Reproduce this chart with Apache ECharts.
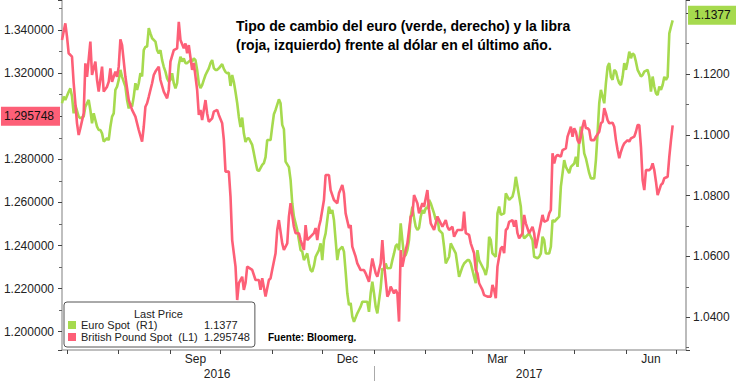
<!DOCTYPE html>
<html>
<head>
<meta charset="utf-8">
<script src="https://cdn.jsdelivr.net/npm/echarts@6/dist/echarts.min.js"></script>
<style>html,body{margin:0;padding:0;background:#fff;}#c{width:736px;height:382px;}</style>
</head>
<body>
<div id="c"></div>
<script>
// ---- data (day offsets since 2016-06-28, values) ----
const startDate = [2016, 5, 28];
const dayCount = 375;

const gbpDay = [0,2,3,4,6,7,9,10,11,13,14,15,17,18,20,21,22,24,25,27,28,29,30,32,33,34,35,36,38,40,42,44,46,48,49,50,51,52,54,55,56,58,59,61,63,64,65,67,69,70,71,73,74,75,76,78,79,81,82,83,84,86,87,88,90,91,93,94,96,97,98,100,101,102,104,105,106,108,109,110,111,114,116,118,119,120,122,124,125,126,128,129,130,132,133,135,136,137,139,140,142,143,145,146,147,149,151,152,153,154,155,157,158,160,161,163,165,166,168,169,170,172,173,174,176,177,179,181,182,184,185,186,188,189,191,192,193,195,196,197,199,200,201,202,203,204,206,207,209,210,211,213,214,216,217,219,220,221,223,224,225,227,228,230,231,232,234,235,237,240,241,242,244,245,247,248,249,250,252,253,255,257,258,259,260,261,262,263,264,265,266,267,268,270,271,272,273,274,276,277,278,280,281,282,283,284,285,287,288,289,291,292,293,294,295,296,297,299,300,302,303,305,306,307,308,309,310,311,312,313,314,315,316,317,319,320,322,323,324,325,326,327,328,330,331,332,333,334,335,336,337,339,340,341,343,344,345,346,347,348,349,350,352,353,354,355,356,357,358,359,360,361,363,364,365,366];
const gbpVal = [1.3354,1.3431,1.3369,1.3292,1.3276,1.3153,1.2967,1.2913,1.2944,1.3013,1.3245,1.3183,1.3346,1.3191,1.3253,1.3168,1.3114,1.3230,1.3114,1.3137,1.3160,1.3222,1.3160,1.3207,1.3183,1.3230,1.3357,1.3330,1.3183,1.3075,1.3029,1.2998,1.2936,1.2882,1.2951,1.3044,1.3060,1.3090,1.3153,1.3191,1.3207,1.3230,1.3168,1.3114,1.3083,1.3122,1.3253,1.3307,1.3315,1.3438,1.3354,1.3315,1.3338,1.3292,1.3330,1.3215,1.3247,1.3122,1.3006,1.3029,1.2982,1.3075,1.3013,1.2974,1.2990,1.3021,1.3029,1.3006,1.2967,1.2890,1.2743,1.2743,1.2627,1.2425,1.2302,1.2147,1.2225,1.2255,1.2194,1.2226,1.2302,1.2287,1.2240,1.2240,1.2194,1.2248,1.2163,1.2240,1.2248,1.2287,1.2364,1.2472,1.2518,1.2410,1.2379,1.2410,1.2534,1.2596,1.2487,1.2457,1.2457,1.2425,1.2379,1.2495,1.2425,1.2441,1.2457,1.2481,1.2425,1.2487,1.2518,1.2611,1.2727,1.2727,1.2657,1.2611,1.2596,1.2642,1.2681,1.2642,1.2549,1.2481,1.2495,1.2395,1.2348,1.2317,1.2286,1.2286,1.2271,1.2232,1.2286,1.2340,1.2271,1.2255,1.2317,1.2425,1.2317,1.2163,1.2178,1.2209,1.2178,1.2194,1.2178,1.2047,1.2379,1.2302,1.2379,1.2410,1.2534,1.2542,1.2634,1.2596,1.2549,1.2596,1.2580,1.2657,1.2565,1.2503,1.2472,1.2503,1.2534,1.2503,1.2487,1.2518,1.2487,1.2472,1.2487,1.2441,1.2472,1.2472,1.2557,1.2457,1.2449,1.2410,1.2364,1.2286,1.2271,1.2225,1.2194,1.2170,1.2163,1.2163,1.2217,1.2194,1.2155,1.2302,1.2348,1.2387,1.2395,1.2364,1.2472,1.2480,1.2510,1.2518,1.2487,1.2518,1.2457,1.2433,1.2457,1.2542,1.2503,1.2457,1.2472,1.2487,1.2457,1.2387,1.2425,1.2503,1.2542,1.2510,1.2518,1.2549,1.2565,1.2828,1.2781,1.2812,1.2820,1.2812,1.2843,1.2851,1.2905,1.2951,1.2905,1.2944,1.2928,1.2889,1.2874,1.2905,1.2951,1.2982,1.2944,1.2944,1.2936,1.2889,1.2889,1.2905,1.2928,1.2967,1.2974,1.3037,1.3013,1.2982,1.2967,1.2970,1.2951,1.2889,1.2843,1.2805,1.2835,1.2858,1.2874,1.2889,1.2882,1.2897,1.2905,1.2928,1.2959,1.2959,1.2858,1.2704,1.2657,1.2750,1.2750,1.2758,1.2781,1.2750,1.2696,1.2634,1.2657,1.2681,1.2689,1.2712,1.2719,1.2812,1.2889,1.295748];

const eurDay = [0,1,2,4,5,6,7,8,10,11,13,14,16,17,18,19,20,21,22,23,24,25,27,28,29,30,31,32,33,34,35,36,38,39,40,41,42,43,44,45,46,47,48,49,50,51,52,53,54,56,57,58,59,60,61,62,63,64,65,66,67,68,69,70,71,72,73,74,75,77,78,79,80,81,82,83,84,85,86,87,88,89,90,91,92,93,94,96,97,98,99,100,101,102,103,104,105,106,107,108,109,110,111,112,113,114,115,116,117,118,120,121,122,123,125,126,127,128,130,131,132,133,134,136,137,138,139,140,141,142,143,144,145,146,147,148,149,150,151,152,154,155,156,157,158,159,160,161,162,163,164,165,166,168,169,170,171,172,173,174,175,177,178,179,180,181,183,184,185,186,187,188,189,191,192,193,194,195,197,198,199,200,201,202,203,204,205,206,207,208,209,210,211,212,213,214,215,216,217,218,219,220,221,223,224,225,226,228,229,230,232,233,235,236,238,240,241,243,244,245,246,247,248,249,250,251,253,254,255,256,257,258,260,261,262,263,265,266,267,268,270,271,272,273,274,275,276,277,278,280,281,282,283,285,286,287,288,289,290,292,293,294,295,296,298,299,301,302,304,305,307,308,309,310,311,312,313,314,316,317,319,320,321,322,323,324,325,326,327,328,329,330,331,332,333,334,335,336,337,338,339,340,341,342,343,344,345,346,347,348,349,351,352,353,354,355,356,357,358,359,360,361,362,363,364,365,366];
const eurVal = [1.1104,1.1126,1.1115,1.1142,1.1153,1.1126,1.1071,1.1098,1.1060,1.1055,1.1060,1.1093,1.1115,1.1082,1.1038,1.1071,1.1049,1.1027,1.1016,1.1016,1.1005,1.0978,1.0989,1.0983,1.1027,1.1060,1.1071,1.1148,1.1159,1.1181,1.1214,1.1191,1.1159,1.1115,1.1087,1.1104,1.1093,1.1126,1.1170,1.1148,1.1170,1.1203,1.1192,1.1279,1.1290,1.1290,1.1351,1.1334,1.1318,1.1307,1.1279,1.1268,1.1279,1.1246,1.1224,1.1208,1.1186,1.1175,1.1181,1.1203,1.1170,1.1153,1.1170,1.1230,1.1257,1.1241,1.1252,1.1236,1.1236,1.1246,1.1241,1.1252,1.1246,1.1214,1.1170,1.1154,1.1164,1.1181,1.1197,1.1208,1.1219,1.1236,1.1246,1.1220,1.1214,1.1214,1.1219,1.1233,1.1217,1.1207,1.1203,1.1204,1.1161,1.1197,1.1174,1.1141,1.1105,1.1059,1.1026,1.1057,1.1005,1.0977,1.0988,1.0989,1.0978,1.0967,1.0940,1.0912,1.0885,1.0881,1.0901,1.0907,1.0927,1.0983,1.0983,1.1027,1.1068,1.1082,1.1117,1.1104,1.1033,1.1019,1.0912,1.0894,1.0852,1.0775,1.0731,1.0709,1.0687,1.0654,1.0621,1.0616,1.0588,1.0599,1.0610,1.0577,1.0555,1.0550,1.0569,1.0599,1.0621,1.0643,1.0588,1.0654,1.0676,1.0720,1.0764,1.0742,1.0753,1.0720,1.0654,1.0588,1.0621,1.0632,1.0616,1.0550,1.0479,1.0440,1.0447,1.0402,1.0385,1.0413,1.0424,1.0435,1.0451,1.0451,1.0451,1.0418,1.0479,1.0517,1.0479,1.0435,1.0413,1.0496,1.0561,1.0555,1.0577,1.0561,1.0562,1.0588,1.0610,1.0634,1.0641,1.0621,1.0709,1.0654,1.0600,1.0605,1.0621,1.0654,1.0731,1.0764,1.0727,1.0698,1.0687,1.0694,1.0731,1.0753,1.0742,1.0759,1.0759,1.0786,1.0775,1.0742,1.0720,1.0731,1.0687,1.0676,1.0632,1.0577,1.0599,1.0643,1.0621,1.0610,1.0533,1.0566,1.0577,1.0588,1.0588,1.0577,1.0555,1.0533,1.0512,1.0621,1.0588,1.0577,1.0555,1.0539,1.0566,1.0665,1.0654,1.0610,1.0599,1.0742,1.0764,1.0737,1.0742,1.0808,1.0797,1.0786,1.0797,1.0819,1.0862,1.0830,1.0797,1.0764,1.0676,1.0660,1.0665,1.0676,1.0665,1.0654,1.0599,1.0594,1.0599,1.0610,1.0665,1.0654,1.0610,1.0610,1.0632,1.0720,1.0714,1.0720,1.0731,1.0830,1.0917,1.0895,1.0874,1.0895,1.0906,1.0928,1.0895,1.0983,1.1027,1.0994,1.0939,1.0923,1.0874,1.0857,1.0857,1.0917,1.1005,1.1104,1.1148,1.1126,1.1104,1.1170,1.1224,1.1236,1.1191,1.1181,1.1214,1.1208,1.1186,1.1170,1.1164,1.1191,1.1236,1.1214,1.1241,1.1274,1.1252,1.1268,1.1263,1.1241,1.1214,1.1203,1.1192,1.1197,1.1208,1.1214,1.1192,1.1142,1.1192,1.1159,1.1137,1.1131,1.1159,1.1148,1.1164,1.1191,1.1181,1.1191,1.1334,1.1356,1.1377];

const monthLabelDates = ['2016-09-16','2016-12-16','2017-03-16','2017-06-16'];
const monthLabels = ['Sep','Dec','Mar','Jun'];
const yearLabelDates = ['2016-09-29','2017-04-04'];
const yearLabels = ['2016','2017'];
const yearSeparatorDate = '2017-01-01';

const gbpRange = [1.19151, 1.35392];
const eurRange = [1.02923, 1.14438];

// ---- build ----
const categories = [];
for (let i = 0; i < dayCount; i++) {
  const d = new Date(Date.UTC(startDate[0], startDate[1], startDate[2] + i));
  categories.push(d.toISOString().slice(0, 10));
}
const FONT = '"Liberation Sans", Arial, sans-serif';
const GREEN = '#a6da4e';
const RED = '#fd5f77';
const gbpLast = gbpVal[gbpVal.length - 1];
const eurLast = eurVal[eurVal.length - 1];

const chart = echarts.init(document.getElementById('c'), null, {renderer: 'svg'});
chart.setOption({
  animation: false,
  backgroundColor: '#fff',
  title: {
    text: 'Tipo de cambio del euro (verde, derecho) y la libra\n(roja, izquierdo) frente al dólar en el último año.',
    left: 236, top: 16, padding: 0,
    textStyle: {fontFamily: FONT, fontSize: 14, fontWeight: 'bold', color: '#000', lineHeight: 19}
  },
  grid: {left: 62, right: 50, top: 0, bottom: 32, containLabel: false},
  legend: {
    orient: 'vertical', left: 64, top: 302,
    padding: [17, 5, 4, 4], itemGap: 0, itemWidth: 8, itemHeight: 8, icon: 'rect',
    backgroundColor: '#fff', borderColor: '#555', borderWidth: 1, borderRadius: 3,
    selectedMode: false,
    data: ['Euro Spot', 'British Pound Spot'],
    formatter: function (name) {
      if (name === 'Euro Spot') return '{n|Euro Spot  (R1)}{v|' + eurLast.toFixed(4) + '}';
      return '{n|British Pound Spot  (L1)}{v|' + gbpLast.toFixed(6) + '}';
    },
    textStyle: {
      fontFamily: FONT, fontSize: 11, color: '#222', lineHeight: 12,
      rich: {
        n: {fontFamily: FONT, fontSize: 11, color: '#222', width: 123, lineHeight: 12},
        v: {fontFamily: FONT, fontSize: 11, color: '#222', width: 44, lineHeight: 12}
      }
    }
  },
  graphic: [
    {type: 'text', left: 134, top: 308, z: 100,
     style: {text: 'Last Price', fill: '#222', font: '11px ' + FONT}},
    {type: 'text', left: 268, top: 332, z: 100,
     style: {text: 'Fuente: Bloomerg.', fill: '#000', font: 'bold 10px ' + FONT}}
  ],
  xAxis: [
    {
      type: 'category', data: categories, boundaryGap: false, position: 'bottom',
      axisLine: {show: true, lineStyle: {color: '#aaa', width: 1.5}},
      axisTick: {show: true, length: 4, lineStyle: {color: '#444'},
        interval: function (i, v) { return v.slice(8) === '01'; }},
      axisLabel: {show: true, margin: 3, fontFamily: FONT, fontSize: 12, color: '#222',
        interval: function (i, v) { return monthLabelDates.indexOf(v) >= 0; },
        formatter: function (v) { return monthLabels[monthLabelDates.indexOf(v)]; }},
      splitLine: {show: false}
    },
    {
      type: 'category', data: categories, boundaryGap: false, position: 'bottom', offset: 16,
      axisLine: {show: false},
      axisTick: {show: true, length: 15, lineStyle: {color: '#aaa', width: 1},
        interval: function (i, v) { return v === yearSeparatorDate; }},
      axisLabel: {show: true, margin: 2, fontFamily: FONT, fontSize: 12, color: '#222',
        interval: function (i, v) { return yearLabelDates.indexOf(v) >= 0; },
        formatter: function (v) { return yearLabels[yearLabelDates.indexOf(v)]; }},
      splitLine: {show: false}
    }
  ],
  yAxis: [
    {
      type: 'value', position: 'left', min: gbpRange[0], max: gbpRange[1], splitNumber: 8,
      axisLine: {show: true, lineStyle: {color: '#aaa', width: 1.5}},
      axisTick: {show: true, length: 4, lineStyle: {color: '#444'}},
      minorTick: {show: true, splitNumber: 2, length: 3, lineStyle: {color: '#666'}},
      axisLabel: {margin: 8, fontFamily: FONT, fontSize: 12, color: '#222',
        showMinLabel: false, showMaxLabel: false,
        formatter: function (v) { return v.toFixed(6); }},
      splitLine: {show: false}
    },
    {
      type: 'value', position: 'right', min: eurRange[0], max: eurRange[1], splitNumber: 6,
      axisLine: {show: true, lineStyle: {color: '#bbb', width: 2}},
      axisTick: {show: true, length: 4, lineStyle: {color: '#444'}},
      minorTick: {show: true, splitNumber: 2, length: 3, lineStyle: {color: '#666'}},
      axisLabel: {margin: 7, fontFamily: FONT, fontSize: 12, color: '#222',
        showMinLabel: false, showMaxLabel: false,
        formatter: function (v) { return v.toFixed(4); }},
      splitLine: {show: false}
    }
  ],
  series: [
    {
      name: 'Euro Spot', type: 'line', xAxisIndex: 0, yAxisIndex: 1,
      data: eurDay.map(function (d, k) { return [d, eurVal[k]]; }),
      showSymbol: false, symbol: 'none', connectNulls: true, clip: false,
      itemStyle: {color: GREEN}, lineStyle: {color: GREEN, width: 2.6},
      markLine: {
        silent: true, symbol: ['none', 'none'], z: 10,
        lineStyle: {color: 'rgba(0,0,0,0)', width: 0, type: 'solid'},
        label: {show: true, position: 'end', distance: 2, offset: [0, 2], formatter: eurLast.toFixed(4),
          backgroundColor: GREEN, color: '#111', fontFamily: FONT, fontSize: 12, opacity: 1,
          padding: [4, 7, 3, 6]},
        emphasis: {disabled: true},
        data: [{yAxis: eurLast}]
      }
    },
    {
      name: 'British Pound Spot', type: 'line', xAxisIndex: 0, yAxisIndex: 0,
      data: gbpDay.map(function (d, k) { return [d, gbpVal[k]]; }),
      showSymbol: false, symbol: 'none', connectNulls: true, clip: false,
      itemStyle: {color: RED}, lineStyle: {color: RED, width: 2.6},
      markLine: {
        silent: true, symbol: ['none', 'none'], z: 10,
        lineStyle: {color: 'rgba(0,0,0,0)', width: 0, type: 'solid'},
        label: {show: true, position: 'start', distance: 2, formatter: gbpLast.toFixed(6),
          backgroundColor: RED, color: '#111', fontFamily: FONT, fontSize: 12, opacity: 1,
          padding: [4, 6, 3, 3]},
        emphasis: {disabled: true},
        data: [{yAxis: gbpLast}]
      }
    }
  ]
});
</script>
</body>
</html>
